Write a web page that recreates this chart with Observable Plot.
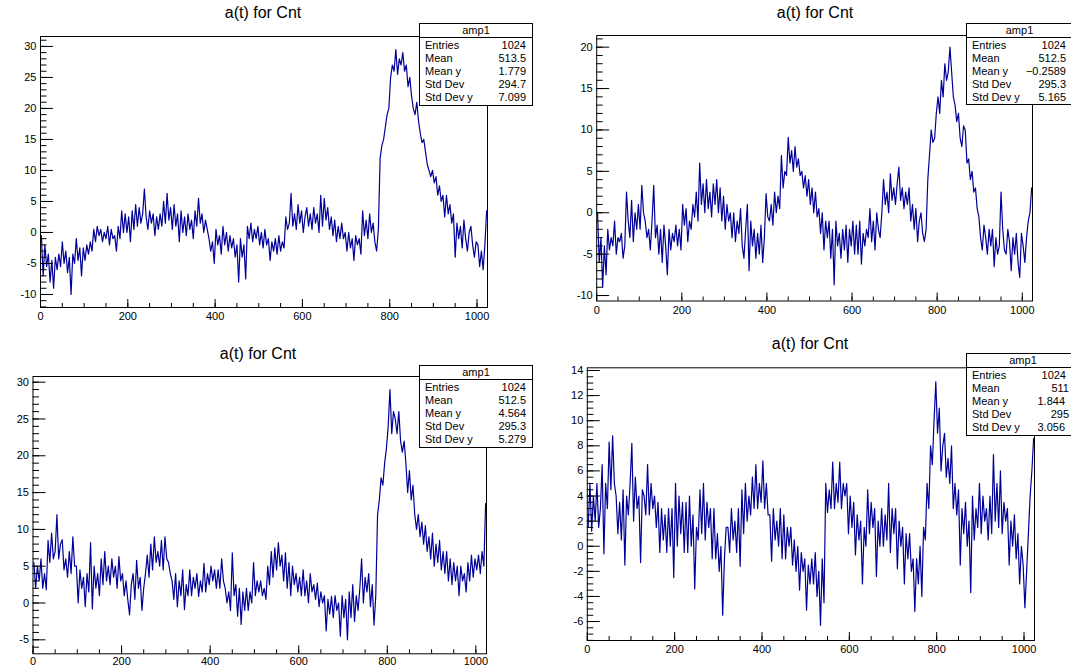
<!DOCTYPE html>
<html><head><meta charset="utf-8">
<script src="https://cdn.jsdelivr.net/npm/d3@7"></script>
<script src="https://cdn.jsdelivr.net/npm/@observablehq/plot@0.6"></script>
<style>
body{margin:0;background:#fff;font-family:"Liberation Sans",Arial,Helvetica,sans-serif;}
#wrap{position:relative;width:1071px;height:669px;overflow:hidden;background:#fff;}
.panel{position:absolute;}
.title{position:absolute;font-size:16px;line-height:16px;color:#000;transform:translateX(-50%);white-space:nowrap;}
.stats{position:absolute;border:1px solid #000;background:#fff;font-size:11px;box-sizing:border-box;color:#000;}
.stats .hdr{position:absolute;left:0;right:0;top:0;height:13px;border-bottom:1px solid #000;text-align:center;line-height:13px;}
.stats .lab{position:absolute;left:5px;line-height:13px;white-space:nowrap;}
.stats .val{position:absolute;line-height:13px;white-space:nowrap;text-align:right;}
</style></head>
<body><div id="wrap"></div>
<script>
// sample positions (time bins, one reading per 4 bins)
const sampleX = d3.range(2, 1024, 4);

// waveform readings (8 readings per 32 bins)
const ampTL = [
 -0.5,-7,-2,-5.5,-3.5,-8,-4.5,-9,  -4,-6,-3.5,-5.5,-1.5,-5,-3,-6.5,
 -4,-10,-3.5,-5,-1,-4.5,-2.5,-7,   -2.5,-4.5,-2,-3.5,-1.5,-3,0.5,-1.5,
 1,-0.5,0.5,-1.5,0,-1,1,-2,        0.5,-1,-0.5,-3,1,-1,3.5,0,
 3,0,2.5,-1.5,3.5,0.5,4.5,1,       4,1.5,3,7,2.5,0.5,3.5,1.5,
 3,-0.5,2.5,0.5,3,1,5,1.5,         6.3,2,4,0.5,4.5,1,3,-1.5,
 3.5,0,2.5,-0.5,3,0.5,2,-1,        3.5,1,5.5,1.5,3,0,2,0.5,
 -1,-3,-1.5,-5,0.5,-2,-0.5,-3.5,   1,-2,0,-3,-0.5,-2.5,-1,-4,
 -2,-8,-1,-4,-2,-7.5,1,-1,         1.5,-1.5,0.5,-1,1,-2,0,-2.5,
 0.5,-2,-1,-4.5,-1.5,-3,-1,-3.5,   -0.5,-3,-1.5,-2.5,2.5,0.5,1.5,6.3,
 1,3,0.5,4.5,1.5,3.5,0,2.5,        4,1,3,0.5,4,1.5,3,0,
 6,1,5.5,2,4,0.5,2.5,-0.5,         2,-1.5,1,-1,1.5,-1,0,-3,
 0,-2.5,-1,-4.5,-0.5,-2,-1,-3.5,   3.5,-0.5,2,-1,3,0,1.5,-1.5,
 -3,0.5,12,14,15,17,19,20,         25,27,26,29.5,25.5,28,27,29,
 26,27,23.5,25,22,20,19,21,        18,16,14.5,15,13,11,10,9,
 10,8,9,6,7.5,5,6,2.5,             6,3,4.5,1.5,3,-4,1.5,-1,
 1,-2.5,2,-1,-3,0,1,-2,            -4,-1.5,-2,-5.5,-3,-6,-2,3.5];
const ampTR = [
 0,-6,-3,-9,-4,-7.5,-2,-4.5,       -3,-4,-1,-5,-3,-3.5,-2.5,-5.5,
 -4,2.5,-1,-3,1.5,-3.5,0,-2,       1,-2,3.3,0,-1,-3,-2,-4.5,
 -1,3.3,-3,-1.5,-5,-2,-6,-1.5,     -4,-7.5,-2,-4.5,-2.5,-3.5,-1.5,-4,
 -2,-4.5,1,-1.5,0.5,-3.5,-1,-2,    1,-0.5,2.5,-1,6,1,3.5,0,
 4,0.5,2.5,-0.5,3.5,1,4,0,         3,-1,2,-2,1,-1,0,-3,
 0,-3.5,-1,-2.5,0.5,-4,-5.5,-2,    1,-7,-1,-4,-2,-5.5,-2.5,-5,
 -1.5,-6,-3,2.3,-0.5,-1,1,-1.5,    2.5,0,2,0.5,6.9,3,5,4.5,
 9.1,6,7.5,5,8,5.5,6.5,4.5,        5,3,4.5,2,4,1,3,0,
 2.5,-0.5,0.5,-2.5,0,-4.5,-1,-3,   -1,-5.5,-2,-8.7,-1,-4,-2.5,-5.5,
 -2,-4.5,-1.5,-6,-2,-4,-1,-5,      -1.5,-5,-1,-6.2,-2.5,-4,-2,-3,
 0.5,-3.5,-1,-4.5,0,-2,-3,0,       4,1,2.5,0,4.7,1.5,3,1,
 3.5,5.5,1.5,3,0.5,2.5,1,3,        -1,1,-2,0.5,-3.5,-1,0,-2.5,
 -3.5,-2,4,7,10,8.5,9,12,          14,12,16,14,18,16,17,20,
 17,14,13,11,12,9,8,10.5,          10,6,6.5,4,5,2.5,3,0.5,
 -0.5,-3,-4.5,-1.5,-3,-5,-2,-4,    -2,-6.5,-3,-5,-4,2.5,-2,-4.5,
 -5,-2,-3.5,-7,-3,-5,-2.5,-6,      -7.8,-2.5,-4,-6,-3,-1,0,3];
const ampBL = [
 5.5,2,5,3,6,2,4,1.8,              8.5,5.5,9.5,6,7,12,6,8,
 8.6,4.5,6,3.5,7,4,9,5,            5,0,4.5,2,3.5,-0.5,4,1.5,
 8.2,-0.8,5,2,4,1,6,2.5,           7,3,5,2.5,6,3.5,5,2,
 6.3,3,4,1,3,0.5,-1.6,2.5,         4,0.5,5.8,2,3.5,-1,2,4,
 6.5,3.5,8,4.5,9,5.5,7,5,          8.5,4.5,9,6,5.5,4,3,0.5,
 4,-0.5,3,1,4.5,-0.9,2.5,1,        4.5,1,3.5,2,4,0.9,3,1.5,
 5.4,1.5,4,2.5,5,3,4.5,2,          4.5,2,6,3,2,0,1.5,-1,
 6.8,1,2.5,-1.8,2,-2.9,1.5,-1,     2,-1,1.5,0,5.5,1,3,1.5,
 3,1,2,0.5,5,2.5,7,3.5,            7.5,4.5,8.2,5,6.5,3,6.8,2,
 5.5,1,5,2.5,4,1.5,3.5,1,          4.5,1,3,0,4,1.5,2.5,0.5,
 2.7,-0.5,1.5,0,1,-3.8,0.5,-1.5,   0.9,-2,1,-1,0,-4.5,1,-2,
 0.5,-5,1.5,-2,2.5,-2.5,1,-1,      2,6,0,3.5,1.5,4,-0.5,2.5,
 -3,1,12,14,17,16,19,21,           24,29,23,26,25,23,26,22,
 20.5,22,19,15,18,14,16,12,        10,12,9,11,8,10.5,7,9,
 6,9.5,5,8,5.5,8.5,4.5,7,          4,7,3,6,2.5,5.5,3,5,
 1,5,3,4,1.5,5.5,3,6.5,            3.5,6,4.5,6.5,4,7,5,13.5];
const ampBR = [
 1.5,5,1.2,4,2,5,1.5,3,            6.5,-0.6,5,3,8.3,4.5,8.8,5,
 4,1,3.5,0.5,4.5,-1.5,4,2.5,       5,8.2,2,5.5,3,4,-1.3,4.5,
 4,2.5,6.5,2.5,5,3,4,1.5,          3.5,-0.5,3,0.5,2.5,-0.5,3,0,
 3,-2.5,5,0,4,1,3.5,-0.5,          3.5,-0.5,4,0,2.5,-3.4,1.5,0.5,
 4.5,1,5,0.5,3.5,1.5,3,-1,         3,-1,1,-2,0,-5.5,-1,1.5,
 1.5,-0.5,3,0.5,2,-0.5,3,-1.6,     4.5,1,5,2,4,2.5,5.5,3,
 6.5,3,5,3.5,6.8,3,5,2.5,          2.5,-1.2,3,0.5,2,0,3,-1,
 2.5,-1,1.5,0,1.5,-1.5,0.5,-2,     0,-3.5,-0.5,-2,-1,-5.1,-1.5,-3,
 -1,-3,-0.5,-4,-2,-6.3,-1,-4.5,    5,2.7,4.5,3,6.7,3,5,3.5,
 6.7,3,5,4,5,1,4,1.5,              3.5,-0.7,2.5,0.5,2,-3,1.5,0,
 4.5,1,3.5,1.5,3,-2.4,2,0,         3,0,2.5,0.5,5,-0.5,3,1,
 3,-1.8,2,0,1.5,-3,1,-1,           1,-2,-1,-5.2,-1,-3,0,-4,
 1.5,0.5,5,3,8,6.5,10,13.1,        9,11,6,8,9,5.5,7,5,
 8,3,5,2.5,4.5,-1.5,3,1,           3.5,0,2,-3.7,4,0.5,3,1.5,
 5,1,4,2,3,0.5,4,1,                7.3,2,5,1.5,6,1,3.5,2,
 3,-1.5,2,0,2.5,-1,1,-3,           0,-1.5,-4.9,-2,1,4,6,8.6];

// axis ticks
const xMajor = [0, 200, 400, 600, 800, 1000];
const xMinor = d3.range(0, 1025, 50);

// statistics boxes
const statLabels = ["Entries", "Mean", "Mean y", "Std Dev", "Std Dev y"];
const statsTL = ["1024", "513.5", "1.779", "294.7", "7.099"];
const statsTR = ["1024", "512.5", "\u22120.2589", "295.3", "5.165"];
const statsBL = ["1024", "512.5", "4.564", "295.3", "5.279"];
const statsBR = ["1024", "511", "1.844", "295", "3.056"];

const titleText = "a(t) for Cnt";

const panels = [
  {values: ampTL, left: 0, top: 0, width: 540, height: 330, ml: 40, mr: 53, mt: 36, mb: 23,
   yDomain: [-12.1, 31.6], yMajor: d3.range(-10, 31, 5), yStep: 1, xPad: 5,
   title: [263, 5], box: {l: 419, t: 23, w: 114, h: 83, vr: [6,6,6,6,6]}, stats: statsTL},
  {values: ampTR, left: 545, top: 0, width: 526, height: 330, ml: 51.2, mr: 39, mt: 35, mb: 29.5,
   yDomain: [-10.66, 21.41], yMajor: d3.range(-10, 21, 5), yStep: 1, xPad: 5,
   title: [815, 5], box: {l: 966, t: 23, w: 107, h: 82, vr: [6,6,6,6,6]}, stats: statsTR},
  {values: ampBL, left: 0, top: 340, width: 540, height: 329, ml: 32.5, mr: 54, mt: 36, mb: 15.7,
   yDomain: [-6.9, 30.77], yMajor: d3.range(-5, 31, 5), yStep: 1, xPad: 3,
   title: [258, 346], box: {l: 419, t: 365, w: 114, h: 83, vr: [6,6,6,6,6]}, stats: statsBL},
  {values: ampBR, left: 545, top: 340, width: 526, height: 329, ml: 41.8, mr: 37, mt: 27.3, mb: 29,
   yDomain: [-7.51, 14.215], yMajor: d3.range(-6, 15, 2), yStep: 0.5, xPad: 5,
   title: [810, 336], box: {l: 966, t: 353, w: 114, h: 83, vr: [13,10,14,10,14]}, stats: statsBR}
];

const wrap = document.getElementById("wrap");

for (const p of panels) {
  const innerW = p.width - p.ml - p.mr, innerH = p.height - p.mt - p.mb;
  const data = sampleX.map((x, i) => ({x, y: p.values[i]}));
  const [y0, y1] = p.yDomain;
  const yMinor = d3.range(Math.ceil(y0 / p.yStep) * p.yStep, y1, p.yStep);
  const chart = Plot.plot({
    width: p.width, height: p.height,
    marginLeft: p.ml, marginRight: p.mr, marginTop: p.mt, marginBottom: p.mb,
    x: {domain: [0, 1024]},
    y: {domain: p.yDomain},
    style: {background: "transparent", color: "#000", fontFamily: "Liberation Sans, Arial, sans-serif", overflow: "visible"},
    marks: [
      Plot.line(data, {x: "x", y: "y", stroke: "#000099", strokeWidth: 1.2, clip: true}),
      Plot.tickY(yMinor, {y: d => d, insetRight: innerW - 6.5, stroke: "#000"}),
      Plot.tickY(p.yMajor, {y: d => d, insetRight: innerW - 13, stroke: "#000"}),
      Plot.tickX(xMinor, {x: d => d, insetTop: innerH - 4, stroke: "#000"}),
      Plot.tickX(xMajor, {x: d => d, insetTop: innerH - 8, stroke: "#000"}),
      Plot.axisY({ticks: p.yMajor, tickSize: 0, tickPadding: 4, tickFormat: d => String(d), label: null, fontSize: 11}),
      Plot.axisX({ticks: xMajor, tickSize: 0, tickPadding: p.xPad, tickFormat: d => String(d), label: null, fontSize: 11}),
      Plot.frame({stroke: "#000"})
    ]
  });
  const holder = document.createElement("div");
  holder.className = "panel";
  holder.style.left = p.left + "px";
  holder.style.top = p.top + "px";
  holder.appendChild(chart);
  wrap.appendChild(holder);

  const t = document.createElement("div");
  t.className = "title";
  t.textContent = titleText;
  t.style.left = p.title[0] + "px";
  t.style.top = p.title[1] + "px";
  wrap.appendChild(t);

  const b = document.createElement("div");
  b.className = "stats";
  b.style.left = p.box.l + "px"; b.style.top = p.box.t + "px";
  b.style.width = p.box.w + "px"; b.style.height = p.box.h + "px";
  const hdr = document.createElement("div");
  hdr.className = "hdr"; hdr.textContent = "amp1";
  b.appendChild(hdr);
  statLabels.forEach((lab, i) => {
    const l = document.createElement("div");
    l.className = "lab"; l.textContent = lab;
    l.style.top = (15 + i * 13) + "px";
    b.appendChild(l);
    const v = document.createElement("div");
    v.className = "val"; v.textContent = p.stats[i];
    v.style.top = (15 + i * 13) + "px";
    v.style.right = p.box.vr[i] + "px";
    b.appendChild(v);
  });
  wrap.appendChild(b);
}
</script>
</body></html>
